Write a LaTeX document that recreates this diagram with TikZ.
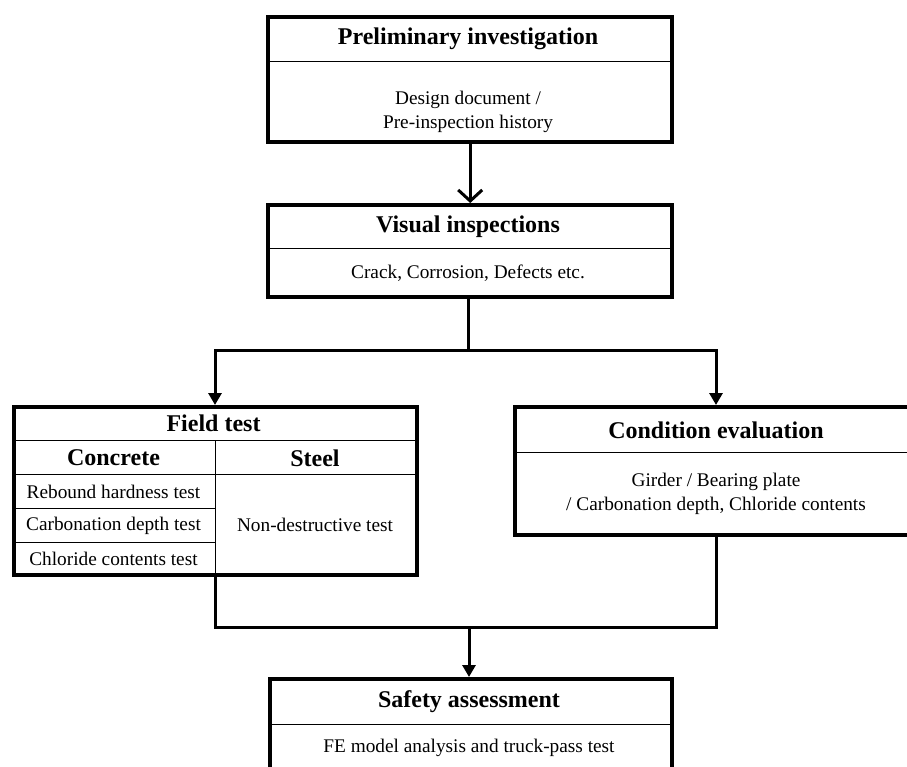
\documentclass[tikz,border=0pt]{standalone}
\usepackage{fontspec}
\setmainfont{Liberation Serif}
\usetikzlibrary{arrows.meta}
\begin{document}
\begin{tikzpicture}[x=1pt,y=-1pt,
 box/.style={draw, line width=4.4pt, anchor=north west, inner sep=0pt},
 ttl/.style={font=\fontsize{24}{28}\selectfont\bfseries, inner sep=0pt},
 bdy/.style={font=\fontsize{19.3}{23.5}\selectfont, align=center, inner sep=0pt},
 thin/.style={line width=1pt},
 conn/.style={line width=3pt},
 tri/.style={-{Triangle[length=12pt,width=13pt]}},
 vee/.style={-{Straight Barb[length=11pt,width=24pt,line width=3pt]}}]
\useasboundingbox (0,0) rectangle (907,767);
\clip (0,0) rectangle (907,767);
% Preliminary investigation
\node[box, minimum width=404pt, minimum height=125pt] (pre) at (266,15) {};
\node[ttl] (preT) at (468,39) {Preliminary investigation};
\coordinate (preD) at (468,62);
\draw[thin] (pre.west |- preD) -- (pre.east |- preD);
\node[bdy] (preB) at (468,112) {Design document /\\Pre-inspection history};
% Visual inspections
\node[box, minimum width=404pt, minimum height=92pt] (vis) at (266,203) {};
\node[ttl] (visT) at (468,227) {Visual inspections};
\coordinate (visD) at (468,249);
\draw[thin] (vis.west |- visD) -- (vis.east |- visD);
\node[bdy] (visB) at (468,273) {Crack, Corrosion, Defects etc.};
% Field test
\node[box, minimum width=403pt, minimum height=168pt] (fld) at (12,405) {};
\node[ttl] (fldT) at (213.5,423.5) {Field test};
\coordinate (fD1) at (213.5,440);
\coordinate (fD2) at (213.5,474);
\coordinate (fD3) at (113.5,508);
\coordinate (fD4) at (113.5,542);
\coordinate (fV) at (215,440);
\draw[thin] (fld.west |- fD1) -- (fld.east |- fD1);
\draw[thin] (fld.west |- fD2) -- (fld.east |- fD2);
\draw[thin] (fld.west |- fD3) -- (fV |- fD3);
\draw[thin] (fld.west |- fD4) -- (fV |- fD4);
\draw[thin] (fV) -- (fV |- fld.south);
\node[ttl] (conc) at (113.5,458) {Concrete};
\node[ttl] (stl) at (315,458) {Steel};
\node[bdy] (r1) at (113.5,491.5) {Rebound hardness test};
\node[bdy] (r2) at (113.5,525.5) {Carbonation depth test};
\node[bdy] (r3) at (113.5,558.5) {Chloride contents test};
\node[bdy] (nd) at (315,525) {Non-destructive test};
% Condition evaluation
\node[box, minimum width=406pt, minimum height=128pt] (cnd) at (513,405) {};
\node[ttl] (cndT) at (716,430) {Condition evaluation};
\coordinate (cD) at (716,452);
\draw[thin] (cnd.west |- cD) -- (cnd.east |- cD);
\node[bdy] (cndB) at (716,494) {Girder / Bearing plate\\/ Carbonation depth, Chloride contents};
% Safety assessment
\node[box, minimum width=402pt, minimum height=140pt] (saf) at (268,677) {};
\node[ttl] (safT) at (469,702) {Safety assessment};
\coordinate (sD) at (469,724);
\draw[thin] (saf.west |- sD) -- (saf.east |- sD);
\node[bdy] (safB) at (469,748) {FE model analysis and truck-pass test};
% connectors
\draw[conn, vee] (pre.south) -- (vis.north);
\coordinate (split) at (468,350);
\coordinate (fIn) at (215,350);
\coordinate (cIn) at (716,350);
\draw[conn] (split |- vis.south) -- (split);
\draw[conn, line cap=rect] (fIn) -- (cIn);
\draw[conn, tri] (fIn) -- (fIn |- fld.north);
\draw[conn, tri] (cIn) -- (cIn |- cnd.north);
\coordinate (join) at (469,627);
\draw[conn] (fV |- fld.south) -- (fV |- join) -- (cIn |- join) -- (cIn |- cnd.south);
\draw[conn, tri] (join) -- (join |- saf.north);
\end{tikzpicture}
\end{document}
